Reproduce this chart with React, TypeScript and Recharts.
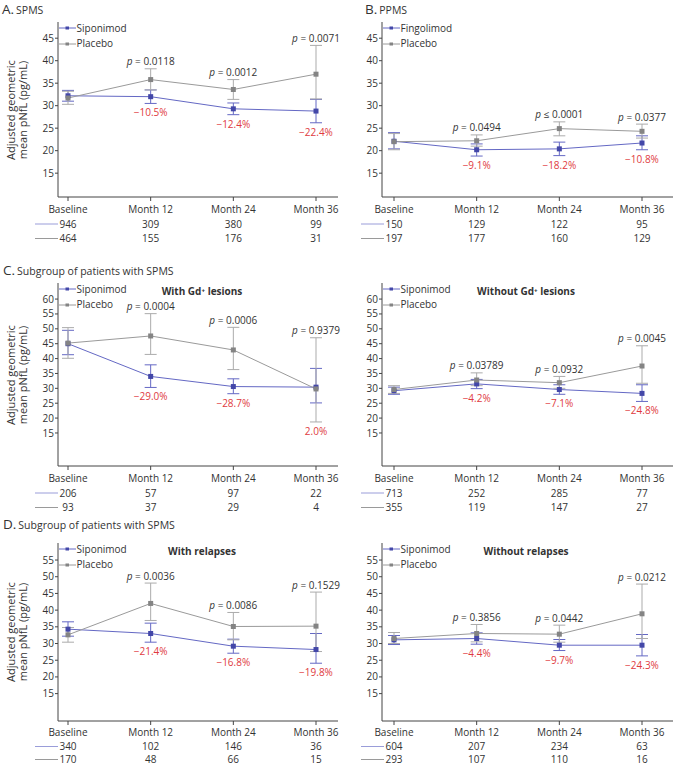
import { LineChart, Line, XAxis, YAxis, ErrorBar, Legend, LabelList } from "recharts";

const categories = ["Baseline", "Month 12", "Month 24", "Month 36"];

// A. SPMS
const aTreatMean = [32.2, 32.0, 29.3, 28.8];
const aTreatLow = [31.0, 30.5, 28.0, 26.2];
const aTreatHigh = [33.4, 33.5, 30.6, 31.4];
const aPlacMean = [31.7, 35.8, 33.6, 37.0];
const aPlacLow = [30.3, 33.5, 31.4, 31.5];
const aPlacHigh = [33.2, 38.2, 35.8, 43.4];
const aPValues = ["", "= 0.0118", "= 0.0012", "= 0.0071"];
const aChanges = ["", "−10.5%", "−12.4%", "−22.4%"];
const aNTreat = [946, 309, 380, 99];
const aNPlac = [464, 155, 176, 31];

// B. PPMS
const bTreatMean = [22.1, 20.2, 20.4, 21.7];
const bTreatLow = [20.4, 18.8, 18.9, 20.2];
const bTreatHigh = [24.0, 21.5, 21.9, 23.3];
const bPlacMean = [22.0, 22.2, 24.9, 24.3];
const bPlacLow = [20.2, 21.0, 23.3, 22.8];
const bPlacHigh = [23.8, 23.5, 26.4, 25.9];
const bPValues = ["", "= 0.0494", "≤ 0.0001", "= 0.0377"];
const bChanges = ["", "−9.1%", "−18.2%", "−10.8%"];
const bNTreat = [150, 129, 122, 95];
const bNPlac = [197, 177, 160, 129];

// C. with Gd+ lesions
const cwTreatMean = [45.0, 34.0, 30.6, 30.4];
const cwTreatLow = [41.3, 30.3, 28.2, 25.1];
const cwTreatHigh = [49.5, 37.9, 33.2, 36.7];
const cwPlacMean = [45.2, 47.6, 42.9, 29.8];
const cwPlacLow = [40.1, 41.4, 36.3, 18.7];
const cwPlacHigh = [50.4, 55.1, 50.5, 47.0];
const cwPValues = ["", "= 0.0004", "= 0.0006", "= 0.9379"];
const cwChanges = ["", "−29.0%", "−28.7%", "2.0%"];
const cwNTreat = [206, 57, 97, 22];
const cwNPlac = [93, 37, 29, 4];

// C. without Gd+ lesions
const coTreatMean = [29.2, 31.5, 29.6, 28.3];
const coTreatLow = [28.0, 29.9, 28.0, 25.6];
const coTreatHigh = [30.4, 33.0, 31.2, 31.2];
const coPlacMean = [29.6, 32.8, 31.9, 37.5];
const coPlacLow = [28.3, 30.9, 30.0, 31.7];
const coPlacHigh = [30.9, 35.2, 34.0, 44.3];
const coPValues = ["", "= 0.03789", "= 0.0932", "= 0.0045"];
const coChanges = ["", "−4.2%", "−7.1%", "−24.8%"];
const coNTreat = [713, 252, 285, 77];
const coNPlac = [355, 119, 147, 27];

// D. with relapses
const dwTreatMean = [34.3, 33.0, 29.2, 28.2];
const dwTreatLow = [32.2, 30.4, 27.1, 24.1];
const dwTreatHigh = [36.5, 36.1, 31.3, 33.0];
const dwPlacMean = [32.6, 42.0, 35.1, 35.2];
const dwPlacLow = [30.4, 36.9, 31.1, 27.6];
const dwPlacHigh = [34.8, 48.1, 39.3, 45.4];
const dwPValues = ["", "= 0.0036", "= 0.0086", "= 0.1529"];
const dwChanges = ["", "−21.4%", "−16.8%", "−19.8%"];
const dwNTreat = [340, 102, 146, 36];
const dwNPlac = [170, 48, 66, 15];

// D. without relapses
const doTreatMean = [31.1, 31.5, 29.5, 29.5];
const doTreatLow = [29.7, 29.8, 27.9, 26.3];
const doTreatHigh = [32.4, 33.2, 31.2, 32.7];
const doPlacMean = [31.5, 33.0, 32.8, 38.9];
const doPlacLow = [30.0, 30.5, 30.4, 31.5];
const doPlacHigh = [33.3, 35.7, 35.5, 47.8];
const doPValues = ["", "= 0.3856", "= 0.0442", "= 0.0212"];
const doChanges = ["", "−4.4%", "−9.7%", "−24.3%"];
const doNTreat = [604, 207, 234, 63];
const doNPlac = [293, 107, 110, 16];

const ticksAB = [15, 20, 25, 30, 35, 40, 45];
const ticksC = [15, 20, 25, 30, 35, 40, 45, 50, 55, 60];
const ticksD = [15, 20, 25, 30, 35, 40, 45, 50, 55];

const BLUE = "#6468c4";
const BLUE_DOT = "#4347a8";
const BLUE_N = "#9a9dd9";
const GRAY = "#9a9a9a";
const GRAY_DOT = "#848484";
const GRAY_ERR = "#ababab";
const RED = "#e03a3e";
const TEXT = "#333";
const AXIS = "#444";

const square = (fill: string, size: number) => (props: any) => {
  const { cx, cy, index } = props;
  if (cx == null || cy == null) return <g key={`e-${index}`} />;
  return <rect key={`sq-${index}`} x={cx - size / 2} y={cy - size / 2} width={size} height={size} fill={fill} />;
};

const renderP = (props: any) => {
  const { x, y, value, index } = props;
  if (!value) return null;
  return (
    <text key={`p-${index}`} x={x} y={y - 3.5} textAnchor="middle" fontSize={10} fill={TEXT}>
      <tspan fontStyle="italic">p</tspan>
      {` ${value}`}
    </text>
  );
};

const renderChange = (props: any) => {
  const { x, y, value, index } = props;
  if (!value) return null;
  return (
    <text key={`c-${index}`} x={x} y={y + 13} textAnchor="middle" fontSize={10} fill={RED}>
      {value}
    </text>
  );
};

type PanelProps = {
  left: number;
  right: boolean;
  plotTop: number;
  plotBottom: number;
  domain: [number, number];
  ticks: number[];
  rowGaps: [number, number, number];
  treatName: string;
  subtitle?: string;
  treatMean: number[];
  treatLow: number[];
  treatHigh: number[];
  placMean: number[];
  placLow: number[];
  placHigh: number[];
  pValues: string[];
  changes: string[];
  nTreat: number[];
  nPlac: number[];
};

function Panel(p: PanelProps) {
  const rows = categories.map((name, i) => ({
    name,
    treat: p.treatMean[i],
    treatErr: [p.treatMean[i] - p.treatLow[i], p.treatHigh[i] - p.treatMean[i]],
    plac: p.placMean[i],
    placErr: [p.placMean[i] - p.placLow[i], p.placHigh[i] - p.placMean[i]],
    top: Math.max(p.treatHigh[i], p.placHigh[i]),
    bottom: Math.min(p.treatLow[i], p.placLow[i]),
    pv: p.pValues[i],
    change: p.changes[i],
  }));

  const width = p.right ? 349 : 345;
  const height = 10 + (p.plotBottom - p.plotTop) + 48;
  const [g0, g1, g2] = p.rowGaps;

  const xTick = (props: any) => {
    const { x, y, payload, index } = props;
    return (
      <g>
        <text x={x} y={y + g0} textAnchor="middle" fontSize={10} fill={TEXT}>
          {payload.value}
        </text>
        <text x={x} y={y + g1} textAnchor="middle" fontSize={10} fill={TEXT}>
          {p.nTreat[index]}
        </text>
        <text x={x} y={y + g2} textAnchor="middle" fontSize={10} fill={TEXT}>
          {p.nPlac[index]}
        </text>
        {index === 0 && (
          <g>
            <line x1={x - 33} x2={x - 10} y1={y + g1 - 3.5} y2={y + g1 - 3.5} stroke={BLUE_N} />
            <line x1={x - 33} x2={x - 10} y1={y + g2 - 3.5} y2={y + g2 - 3.5} stroke={GRAY} />
          </g>
        )}
      </g>
    );
  };

  const legendContent = () => (
    <div style={{ fontSize: 10, lineHeight: "15.5px", color: TEXT }}>
      {[
        [p.treatName, BLUE, BLUE_DOT],
        ["Placebo", GRAY, GRAY_DOT],
      ].map(([n, c, d]) => (
        <div key={n} style={{ display: "flex", alignItems: "center", whiteSpace: "nowrap" }}>
          <svg width={17} height={8} style={{ display: "block" }}>
            <line x1={0} y1={4} x2={17} y2={4} stroke={c} />
            <rect x={6.5} y={2.5} width={3.5} height={3} fill={d} />
          </svg>
          <span style={{ marginLeft: 1 }}>{n}</span>
        </div>
      ))}
    </div>
  );

  return (
    <div style={{ position: "absolute", left: p.left, top: p.plotTop - 10 }}>
      <LineChart
        width={width}
        height={height}
        data={rows}
        margin={{ top: 10, right: p.right ? 0 : 7, bottom: 0, left: 0 }}
      >
        <XAxis
          dataKey="name"
          height={48}
          interval={0}
          tick={xTick}
          tickSize={4}
          tickMargin={0}
          stroke={AXIS}
          padding={p.right ? { left: 12, right: 31 } : { left: 10, right: 22 }}
        />
        <YAxis
          width={58}
          type="number"
          domain={p.domain}
          ticks={p.ticks}
          interval={0}
          allowDataOverflow
          tickSize={3}
          tickMargin={1}
          stroke={AXIS}
          tick={{ fontSize: 10, fill: TEXT }}
        />
        <Legend
          layout="vertical"
          align="center"
          verticalAlign="middle"
          content={legendContent}
          wrapperStyle={{ left: 58.5, top: 8.5, width: "auto", height: "auto" }}
        />
        <Line
          dataKey="treat"
          name={p.treatName}
          stroke={BLUE}
          strokeWidth={1}
          dot={square(BLUE_DOT, 5)}
          activeDot={false}
          isAnimationActive={false}
        >
          <ErrorBar dataKey="treatErr" width={6} stroke={BLUE} strokeWidth={1} direction="y" />
        </Line>
        <Line
          dataKey="plac"
          name="Placebo"
          stroke={GRAY}
          strokeWidth={1}
          dot={square(GRAY_DOT, 5)}
          activeDot={false}
          isAnimationActive={false}
        >
          <ErrorBar dataKey="placErr" width={6} stroke={GRAY_ERR} strokeWidth={1} direction="y" />
        </Line>
        <Line
          dataKey="top"
          stroke="transparent"
          dot={false}
          activeDot={false}
          legendType="none"
          isAnimationActive={false}
        >
          <LabelList dataKey="pv" content={renderP} />
        </Line>
        <Line
          dataKey="bottom"
          stroke="transparent"
          dot={false}
          activeDot={false}
          legendType="none"
          isAnimationActive={false}
        >
          <LabelList dataKey="change" content={renderChange} />
        </Line>
      </LineChart>
      {p.subtitle && (
        <div
          style={{
            position: "absolute",
            left: 58 + 144 - 80,
            width: 160,
            top: 10 + 1,
            textAlign: "center",
            fontSize: 10,
            fontWeight: 700,
            color: TEXT,
            lineHeight: "14px",
          }}
        >
          {p.subtitle}
        </div>
      )}
    </div>
  );
}

function YLabel({ center }: { center: number }) {
  return (
    <div
      style={{
        position: "absolute",
        left: 16.5 - 100,
        top: center - 12,
        width: 200,
        height: 24,
        transform: "rotate(-90deg)",
        textAlign: "center",
        fontSize: 11,
        lineHeight: "11.5px",
        color: TEXT,
      }}
    >
      Adjusted geometric
      <br />
      mean pNfL (pg/mL)
    </div>
  );
}

function Title({ x, y, letter, text }: { x: number; y: number; letter: string; text: string }) {
  return (
    <div
      style={{
        position: "absolute",
        left: x,
        top: y - 10,
        whiteSpace: "nowrap",
        color: TEXT,
        lineHeight: "20px",
      }}
    >
      <span style={{ fontSize: 13.5 }}>{letter}</span>
      <span style={{ fontSize: 10.5, marginLeft: 2 }}>{text}</span>
    </div>
  );
}

const gapsTop: [number, number, number] = [12, 26.5, 41];
const gapsBottom: [number, number, number] = [11, 25, 38];

export default function App() {
  return (
    <div
      style={{
        position: "absolute",
        left: 0,
        top: 0,
        width: 673,
        height: 766,
        overflow: "hidden",
        background: "#fff",
        fontFamily: "'Open Sans', sans-serif",
      }}
    >
      <Panel
        left={0}
        right={false}
        plotTop={22}
        plotBottom={197}
        domain={[9.7, 48.6]}
        ticks={ticksAB}
        rowGaps={gapsTop}
        treatName="Siponimod"
        treatMean={aTreatMean}
        treatLow={aTreatLow}
        treatHigh={aTreatHigh}
        placMean={aPlacMean}
        placLow={aPlacLow}
        placHigh={aPlacHigh}
        pValues={aPValues}
        changes={aChanges}
        nTreat={aNTreat}
        nPlac={aNPlac}
      />
      <Panel
        left={324}
        right
        plotTop={22}
        plotBottom={197}
        domain={[9.7, 48.6]}
        ticks={ticksAB}
        rowGaps={gapsTop}
        treatName="Fingolimod"
        treatMean={bTreatMean}
        treatLow={bTreatLow}
        treatHigh={bTreatHigh}
        placMean={bPlacMean}
        placLow={bPlacLow}
        placHigh={bPlacHigh}
        pValues={bPValues}
        changes={bChanges}
        nTreat={bNTreat}
        nPlac={bNPlac}
      />
      <Panel
        left={0}
        right={false}
        plotTop={283}
        plotBottom={466}
        domain={[3.9, 65.4]}
        ticks={ticksC}
        rowGaps={gapsTop}
        treatName="Siponimod"
        subtitle="With Gd⁺ lesions"
        treatMean={cwTreatMean}
        treatLow={cwTreatLow}
        treatHigh={cwTreatHigh}
        placMean={cwPlacMean}
        placLow={cwPlacLow}
        placHigh={cwPlacHigh}
        pValues={cwPValues}
        changes={cwChanges}
        nTreat={cwNTreat}
        nPlac={cwNPlac}
      />
      <Panel
        left={324}
        right
        plotTop={283}
        plotBottom={466}
        domain={[3.9, 65.4]}
        ticks={ticksC}
        rowGaps={gapsTop}
        treatName="Siponimod"
        subtitle="Without Gd⁺ lesions"
        treatMean={coTreatMean}
        treatLow={coTreatLow}
        treatHigh={coTreatHigh}
        placMean={coPlacMean}
        placLow={coPlacLow}
        placHigh={coPlacHigh}
        pValues={coPValues}
        changes={coChanges}
        nTreat={coNTreat}
        nPlac={coNPlac}
      />
      <Panel
        left={0}
        right={false}
        plotTop={543}
        plotBottom={721}
        domain={[6.8, 60.1]}
        ticks={ticksD}
        rowGaps={gapsBottom}
        treatName="Siponimod"
        subtitle="With relapses"
        treatMean={dwTreatMean}
        treatLow={dwTreatLow}
        treatHigh={dwTreatHigh}
        placMean={dwPlacMean}
        placLow={dwPlacLow}
        placHigh={dwPlacHigh}
        pValues={dwPValues}
        changes={dwChanges}
        nTreat={dwNTreat}
        nPlac={dwNPlac}
      />
      <Panel
        left={324}
        right
        plotTop={543}
        plotBottom={721}
        domain={[6.8, 60.1]}
        ticks={ticksD}
        rowGaps={gapsBottom}
        treatName="Siponimod"
        subtitle="Without relapses"
        treatMean={doTreatMean}
        treatLow={doTreatLow}
        treatHigh={doTreatHigh}
        placMean={doPlacMean}
        placLow={doPlacLow}
        placHigh={doPlacHigh}
        pValues={doPValues}
        changes={doChanges}
        nTreat={doNTreat}
        nPlac={doNPlac}
      />
      <YLabel center={109.5} />
      <YLabel center={374.5} />
      <YLabel center={632} />
      <Title x={2} y={8} letter="A." text="SPMS" />
      <Title x={365} y={8} letter="B." text="PPMS" />
      <Title x={3} y={269} letter="C." text="Subgroup of patients with SPMS" />
      <Title x={3} y={523} letter="D." text="Subgroup of patients with SPMS" />
    </div>
  );
}
